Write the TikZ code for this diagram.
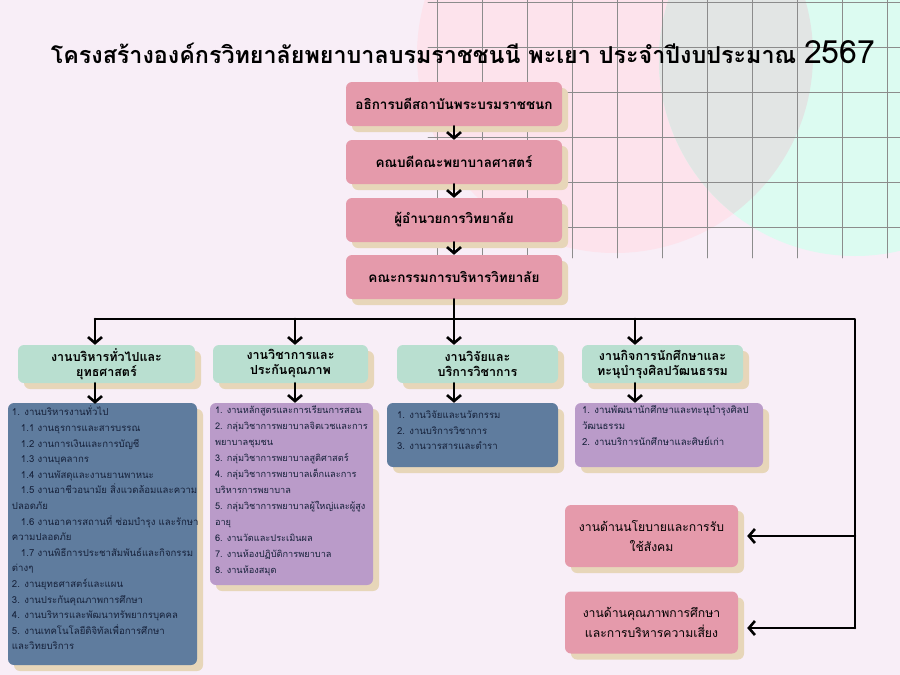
\documentclass[tikz,border=0pt]{standalone}
\usepackage{fontspec}
\newfontfamily\thaifont[Script=Thai]{Loma}
\usetikzlibrary{arrows.meta,shadows}

\definecolor{paperbg}{HTML}{F8EEF7}
\definecolor{circpink}{HTML}{FDE3EC}
\definecolor{circmint}{HTML}{DCFBF1}
\definecolor{circgray}{HTML}{E2E5E4}
\definecolor{boxpink}{HTML}{E59AAB}
\definecolor{boxmint}{HTML}{B9DFD0}
\definecolor{boxsteel}{HTML}{5F7C9E}
\definecolor{boxlilac}{HTML}{BA9BC9}
\definecolor{shadowtan}{HTML}{E7D6B9}
\definecolor{inknavy}{HTML}{16213A}

\begin{document}
\begin{tikzpicture}[x=1pt,y=-1pt,line cap=round,line join=round]
  \tikzset{
    card/.style={fill=#1,draw=none,rounded corners=6pt,
      drop shadow={shadow xshift=6pt,shadow yshift=-6pt,fill=shadowtan,opacity=1}},
    rankbox/.style={card=boxpink,minimum width=216pt,minimum height=44pt,align=center,
      font=\thaifont\bfseries\fontsize{13.5}{16}\selectfont},
    unitbox/.style={card=boxmint,minimum height=38pt,align=center,inner sep=2pt,
      font=\thaifont\bfseries\fontsize{12.5}{15}\selectfont},
    taskbox/.style={card=#1},
    tasktext/.style={anchor=north west,align=left,inner sep=0pt,text=inknavy,
      font=\thaifont\fontsize{9.6}{15.6}\selectfont},
    sidebox/.style={card=boxpink,minimum width=173pt,minimum height=62pt,align=center,
      font=\thaifont\fontsize{12.2}{20}\selectfont},
    link/.style={draw=black,line width=2.6pt},
    arr/.style={link,-{Straight Barb[length=6pt,width=14pt]}}
  }
  \useasboundingbox (0,0) rectangle (900,675);
  % backdrop: two circles and a grid in the top right corner
  \begin{scope}
    \clip (0,0) rectangle (900,675);
    \fill[paperbg] (0,0) rectangle (900,675);
    \fill[circpink] (615,55) circle[radius=198];
    \fill[circmint] (855,60) circle[radius=196];
    \begin{scope}
      \clip (615,55) circle[radius=198];
      \fill[circgray] (855,60) circle[radius=196];
    \end{scope}
    \foreach \gx in {437,482,...,900}
      \draw[black!45,line width=0.7pt] (\gx,0) -- (\gx,258);
    \foreach \gy in {2,47,...,240}
      \draw[black!45,line width=0.7pt] (428,\gy) -- (900,\gy);
  \end{scope}

  \node[font=\thaifont\bfseries\fontsize{23.3}{28}\selectfont] (title) at (463,52)
    {โครงสร้างองค์กรวิทยาลัยพยาบาลบรมราชชนนี พะเยา ประจำปีงบประมาณ {\mdseries\fontsize{32}{34}\selectfont 2567}};

  % chain of command
  \node[rankbox] (rector) at (454,104) {อธิการบดีสถาบันพระบรมราชชนก};
  \node[rankbox] (dean) at (454,162) {คณบดีคณะพยาบาลศาสตร์};
  \node[rankbox] (director) at (454,220) {ผู้อำนวยการวิทยาลัย};
  \node[rankbox] (board) at (454,277) {คณะกรรมการบริหารวิทยาลัย};
  \draw[arr] (rector) -- (dean);
  \draw[arr] (dean) -- (director);
  \draw[arr] (director) -- (board);

  % four work groups
  \node[unitbox,minimum width=177pt] (admin) at (106.5,364) {งานบริหารทั่วไปและ\\ยุทธศาสตร์};
  \node[unitbox,minimum width=155pt] (academic) at (290.5,364) {งานวิชาการและ\\ประกันคุณภาพ};
  \node[unitbox,minimum width=161pt] (research) at (477.5,364) {งานวิจัยและ\\บริการวิชาการ};
  \node[unitbox,minimum width=161pt] (student) at (662.5,364) {งานกิจการนักศึกษาและ\\ทะนุบำรุงศิลปวัฒนธรรม};

  % their task lists
  \node[taskbox=boxsteel,minimum width=189pt,minimum height=262pt] (adminlist) at (102.5,534) {};
  \node[taskbox=boxlilac,minimum width=163pt,minimum height=182pt] (academiclist) at (291.5,494) {};
  \node[taskbox=boxsteel,minimum width=171pt,minimum height=64pt] (researchlist) at (472.5,435) {};
  \node[taskbox=boxlilac,minimum width=188pt,minimum height=64pt] (studentlist) at (669,435) {};

  \node[tasktext] (admintext) at ([xshift=4pt,yshift=-3pt]adminlist.north west)
    {1. งานบริหารงานทั่วไป\\
     \hspace*{9pt}1.1 งานธุรการและสารบรรณ\\
     \hspace*{9pt}1.2 งานการเงินและการบัญชี\\
     \hspace*{9pt}1.3 งานบุคลากร\\
     \hspace*{9pt}1.4 งานพัสดุและงานยานพาหนะ\\
     \hspace*{9pt}1.5 งานอาชีวอนามัย สิ่งแวดล้อมและความ\\
     ปลอดภัย\\
     \hspace*{9pt}1.6 งานอาคารสถานที่ ซ่อมบำรุง และรักษา\\
     ความปลอดภัย\\
     \hspace*{9pt}1.7 งานพิธีการประชาสัมพันธ์และกิจกรรม\\
     ต่างๆ\\
     2. งานยุทธศาสตร์และแผน\\
     3. งานประกันคุณภาพการศึกษา\\
     4. งานบริหารและพัฒนาทรัพยากรบุคคล\\
     5. งานเทคโนโลยีดิจิทัลเพื่อการศึกษา\\
     และวิทยบริการ};
  \node[tasktext,font=\thaifont\fontsize{9.2}{16}\selectfont] (academictext)
    at ([xshift=5pt,yshift=-3pt]academiclist.north west)
    {1. งานหลักสูตรและการเรียนการสอน\\
     2. กลุ่มวิชาการพยาบาลจิตเวชและการ\\
     พยาบาลชุมชน\\
     3. กลุ่มวิชาการพยาบาลสูติศาสตร์\\
     4. กลุ่มวิชาการพยาบาลเด็กและการ\\
     บริหารการพยาบาล\\
     5. กลุ่มวิชาการพยาบาลผู้ใหญ่และผู้สูง\\
     อายุ\\
     6. งานวัดและประเมินผล\\
     7. งานห้องปฏิบัติการพยาบาล\\
     8. งานห้องสมุด};
  \node[tasktext] (researchtext) at ([xshift=10pt,yshift=-8pt]researchlist.north west)
    {1. งานวิจัยและนวัตกรรม\\
     2. งานบริการวิชาการ\\
     3. งานวารสารและตำรา};
  \node[tasktext] (studenttext) at ([xshift=7pt,yshift=-3pt]studentlist.north west)
    {1. งานพัฒนานักศึกษาและทะนุบำรุงศิลป\\
     วัฒนธรรม\\
     2. งานบริการนักศึกษาและศิษย์เก่า};

  % two units on the right
  \node[sidebox] (policy) at (651.5,536) {งานด้านนโยบายและการรับ\\ใช้สังคม};
  \node[sidebox] (quality) at (651.5,622.5) {งานด้านคุณภาพการศึกษา\\และการบริหารความเสี่ยง};

  % bus from the board to every unit
  \coordinate (busL) at (95,319);
  \coordinate (dropB) at (295,319);
  \coordinate (dropD) at (635,319);
  \coordinate (busR) at (855,319);
  \coordinate (busEnd) at (855,628);
  \draw[link] (busL) -- (busR) -- (busEnd);
  \draw[arr] (board) -- (board |- research.north);
  \draw[arr] (busL) -- (busL |- admin.north);
  \draw[arr] (dropB) -- (dropB |- academic.north);
  \draw[arr] (dropD) -- (dropD |- student.north);
  \draw[arr] (admin.south -| busL) -- ([yshift=-1pt]adminlist.north -| busL);
  \draw[arr] (academic.south -| dropB) -- (academiclist.north -| dropB);
  \draw[arr] (research.south -| board) -- (researchlist.north -| board);
  \draw[arr] (student.south -| dropD) -- (studentlist.north -| dropD);
  \draw[arr] (busR |- policy) -- ([xshift=9pt]policy.east);
  \draw[arr] (busEnd) -- ([xshift=9pt]quality.east |- busEnd);
\end{tikzpicture}
\end{document}
